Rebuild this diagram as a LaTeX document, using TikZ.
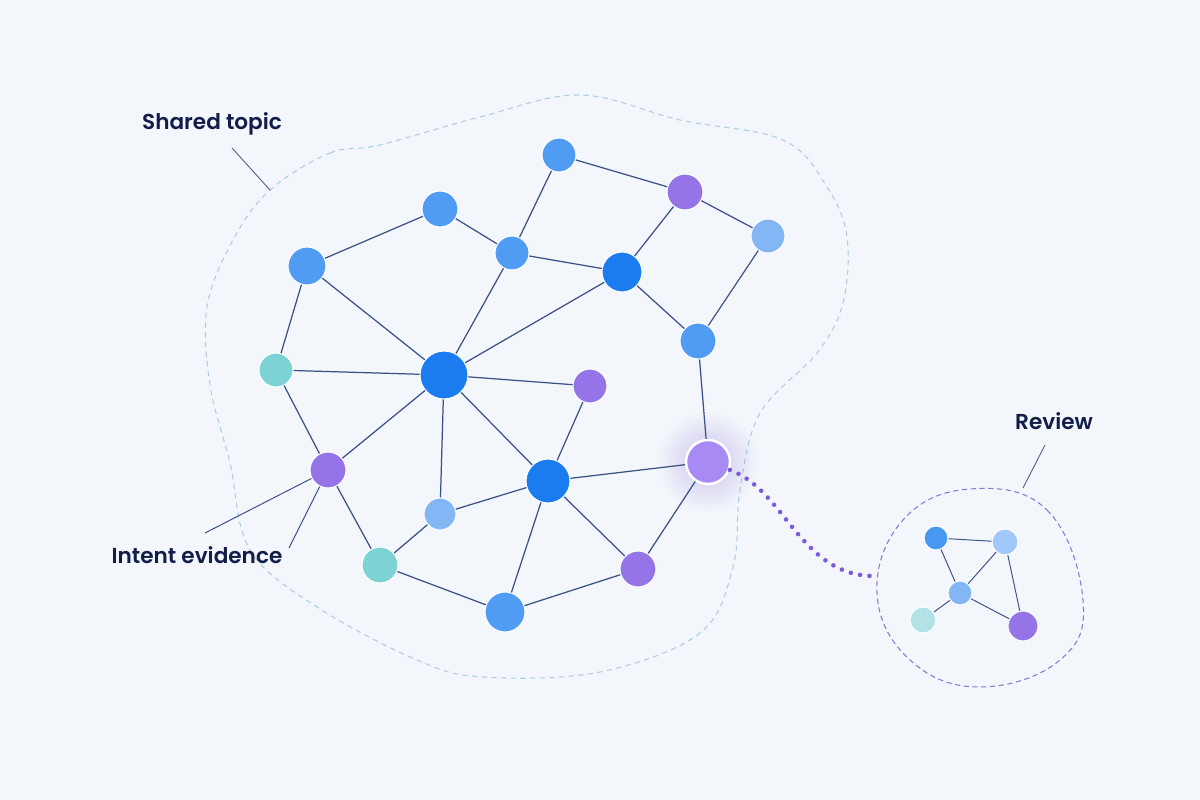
\documentclass[tikz,border=0pt]{standalone}
\usepackage{fontspec}
\newfontfamily\lblfont{Poppins SemiBold}
\usetikzlibrary{positioning}

\definecolor{bgc}{RGB}{243,247,251}
\definecolor{edgec}{RGB}{58,80,135}
\definecolor{leadc}{RGB}{80,95,135}
\definecolor{inkc}{RGB}{18,30,72}
\definecolor{midblue}{RGB}{80,156,242}
\definecolor{deepblue}{RGB}{26,124,238}
\definecolor{paleblue}{RGB}{130,182,245}
\definecolor{violet}{RGB}{148,116,230}
\definecolor{glowc}{RGB}{168,138,245}
\definecolor{tealc}{RGB}{125,210,212}
\definecolor{cyanpale}{RGB}{178,226,230}
\definecolor{blobc}{RGB}{172,204,228}
\definecolor{ringc}{RGB}{140,120,210}
\definecolor{dotc}{RGB}{125,90,220}

\tikzset{
	dot/.style={circle,draw=white,line width=0.6pt,inner sep=0pt,minimum size=#1*0.04cm},
	edge/.style={draw=edgec,line width=0.7pt},
	lead/.style={draw=leadc,line width=0.5pt},
	lbl/.style={text=inkc,font=\lblfont\fontsize{12.3}{15}\selectfont}
}

\begin{document}
\begin{tikzpicture}[x=0.02cm,y=-0.02cm]
		\fill[bgc] (0,0) rectangle (1200,800);

		% topic outline
		\draw[blobc,dashed,line width=0.6pt,dash pattern=on 3pt off 2.5pt]
		plot[smooth cycle,tension=0.6] coordinates {(270,190) (330,153) (380,145) (480,117) (580,95) (680,120) (783,140) (827,187) (847,237) (843,303) (817,353) (760,413) (740,490) (733,567) (700,633) (600,672) (483,677) (417,660) (317,607) (250,550) (230,463) (210,385) (207,307) (233,240)};

		% review outline
		\draw[ringc,dashed,line width=0.6pt,dash pattern=on 3pt off 2pt]
		plot[smooth cycle,tension=0.7] coordinates {(970,489) (1047,510) (1083,600) (1060,660) (980,687) (910,660) (877,593) (903,520)};

		\foreach \r in {1.0,0.92,0.84,0.76,0.68,0.6,0.52}
			\fill[glowc,opacity=0.035] (708,462) circle[radius=\r cm];

		\node (A) at (559,155) [dot=17,fill=midblue] {};
		\node (B) at (685,192) [dot=18,fill=violet] {};
		\node (C) at (768,236) [dot=17,fill=paleblue] {};
		\node (D) at (440,209) [dot=18,fill=midblue] {};
		\node (E) at (512,253) [dot=17,fill=midblue] {};
		\node (F) at (622,272) [dot=20,fill=deepblue] {};
		\node (G) at (307,266) [dot=19,fill=midblue] {};
		\node (H) at (698,341) [dot=18,fill=midblue] {};
		\node (I) at (276,370) [dot=17,fill=tealc] {};
		\node (J) at (444,375) [dot=24,fill=deepblue] {};
		\node (K) at (590,386) [dot=17,fill=violet] {};
		\node (L) at (708,462) [dot=22,fill=glowc,line width=1.4pt] {};
		\node (M) at (328,470) [dot=18,fill=violet] {};
		\node (N) at (548,481) [dot=22,fill=deepblue] {};
		\node (O) at (440,514) [dot=16,fill=paleblue] {};
		\node (P) at (380,565) [dot=18,fill=tealc] {};
		\node (Q) at (638,569) [dot=18,fill=violet] {};
		\node (R) at (505,612) [dot=20,fill=midblue] {};

		\foreach \u/\v in {A/B,A/E,B/F,B/C,C/H,D/G,D/E,E/F,E/J,F/H,F/J,G/I,G/J,I/J,I/M,J/M,J/K,J/O,J/N,K/N,M/P,P/O,O/N,P/R,N/R,N/Q,N/L,R/Q,Q/L,H/L}
			\draw[edge] (\u) -- (\v);

		\node (a) at (936,538) [dot=12,fill=midblue!85!deepblue] {};
		\node (b) at (1005,542) [dot=13,fill=paleblue!75!white] {};
		\node (c) at (960,593) [dot=12,fill=paleblue] {};
		\node (d) at (923,620) [dot=13,fill=cyanpale] {};
		\node (e) at (1023,626) [dot=15,fill=violet] {};

		\foreach \u/\v in {a/b,a/c,b/c,b/e,c/d,c/e}
			\draw[edge,line width=0.55pt] (\u) -- (\v);

		\draw[dotc,line width=2.6pt,line cap=round,dash pattern=on 0pt off 5.4pt]
		(L) .. controls (785,490) and (800,575) .. (873,576);

		\node (shared) at (212,124) [lbl] {Shared topic};
		\coordinate (st1) at (232,148);
		\coordinate (st2) at (270,190);
		\draw[lead] (st1) -- (st2);

		\node (intent) at (197,555) [lbl] {Intent evidence};
		\coordinate (ie1) at (205,533);
		\coordinate (ie2) at (289,548);
		\draw[edge,line width=0.55pt] (M) -- (ie1);
		\draw[edge,line width=0.55pt] (M) -- (ie2);

		\node (review) at (1054,421) [lbl] {Review};
		\coordinate (rv1) at (1045,445);
		\coordinate (rv2) at (1023,488);
		\draw[lead] (rv1) -- (rv2);
	\end{tikzpicture}
\end{document}
